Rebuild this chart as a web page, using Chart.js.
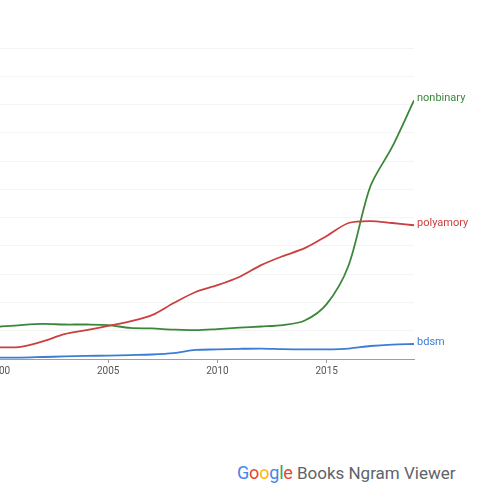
<!DOCTYPE html>
<html>
<head>
<meta charset="utf-8">
<script src="https://cdn.jsdelivr.net/npm/chart.js@4/dist/chart.umd.min.js"></script>
<style>
  html, body { margin: 0; padding: 0; background: #fff; overflow: hidden; width: 500px; height: 500px; }
  #wrap { position: absolute; left: -1px; top: 0; width: 501px; height: 389px; }
  #footer { position: absolute; left: 237px; top: 462px; font-family: Roboto, "Open Sans", sans-serif; font-size: 17px; white-space: nowrap; color: #5f6368; }
  #footer .g { font-size: 18px; letter-spacing: -0.2px; }
</style>
</head>
<body>
<div id="wrap"><canvas id="ngram"></canvas></div>
<div id="footer"><span class="g"><span style="color:#4285f4">G</span><span style="color:#ea4335">o</span><span style="color:#fbbc05">o</span><span style="color:#4285f4">g</span><span style="color:#34a853">l</span><span style="color:#ea4335">e</span></span> Books Ngram Viewer</div>
<script>
// years shown on the x axis
const years = [2000, 2001, 2002, 2003, 2004, 2005, 2006, 2007, 2008, 2009,
               2010, 2011, 2012, 2013, 2014, 2015, 2016, 2017, 2018, 2019];
const tickYears = [2000, 2005, 2010, 2015];

// frequencies (grid units)
const nonbinary = [1.14, 1.20, 1.24, 1.22, 1.22, 1.20, 1.10, 1.08, 1.04, 1.02,
                   1.06, 1.11, 1.15, 1.20, 1.36, 1.94, 3.30, 6.10, 7.50, 9.15];
const polyamory = [0.41, 0.43, 0.62, 0.88, 1.02, 1.17, 1.33, 1.55, 1.98, 2.37,
                   2.61, 2.90, 3.32, 3.64, 3.92, 4.35, 4.81, 4.88, 4.81, 4.73];
const bdsm = [0.05, 0.05, 0.07, 0.09, 0.11, 0.12, 0.14, 0.16, 0.21, 0.32,
              0.34, 0.36, 0.37, 0.35, 0.34, 0.34, 0.37, 0.46, 0.51, 0.53];

const series = [
    { name: 'bdsm', values: bdsm, color: '#3b7dd4' },
    { name: 'polyamory', values: polyamory, color: '#c9403f' },
    { name: 'nonbinary', values: nonbinary, color: '#3a873a' }
];

// writes each term's name next to the last point of its line
const endLabels = {
    id: 'endLabels',
    afterDatasetsDraw(chart) {
        const ctx = chart.ctx;
        ctx.save();
        ctx.font = '11px Roboto, sans-serif';
        ctx.textBaseline = 'middle';
        chart.data.datasets.forEach((ds, i) => {
            const pts = chart.getDatasetMeta(i).data;
            const last = pts[pts.length - 1];
            ctx.fillStyle = ds.borderColor;
            ctx.fillText(ds.label, last.x + 3, last.y - 2);
        });
        ctx.restore();
    }
};

new Chart(document.getElementById('ngram'), {
    type: 'line',
    data: {
        datasets: series.map(s => ({
            label: s.name,
            data: years.map((y, i) => ({ x: y, y: s.values[i] })),
            borderColor: s.color,
            borderWidth: 1.8,
            pointRadius: 0,
            tension: 0.3
        }))
    },
    options: {
        responsive: true,
        maintainAspectRatio: false,
        animation: false,
        layout: { padding: { left: 0, right: 86, top: 48, bottom: 0 } },
        plugins: { legend: { display: false }, tooltip: { enabled: false } },
        scales: {
            x: {
                type: 'linear',
                min: 2000,
                max: 2019,
                afterBuildTicks: scale => { scale.ticks = tickYears.map(v => ({ value: v })); },
                afterFit: scale => { scale.height = 30; scale.paddingLeft = 0; scale.paddingRight = 0; },
                grid: { drawOnChartArea: false, color: '#9e9e9e', tickLength: 4 },
                border: { color: '#9e9e9e' },
                ticks: {
                    color: '#555',
                    font: { family: 'Roboto', size: 10 },
                    padding: 2,
                    maxRotation: 0,
                    callback: v => String(v)
                }
            },
            y: {
                min: 0,
                max: 11,
                afterFit: scale => { scale.width = 0; },
                ticks: { display: false, stepSize: 1 },
                grid: { color: '#f4f4f4', drawTicks: false },
                border: { display: false }
            }
        }
    },
    plugins: [endLabels]
});
</script>
</body>
</html>
